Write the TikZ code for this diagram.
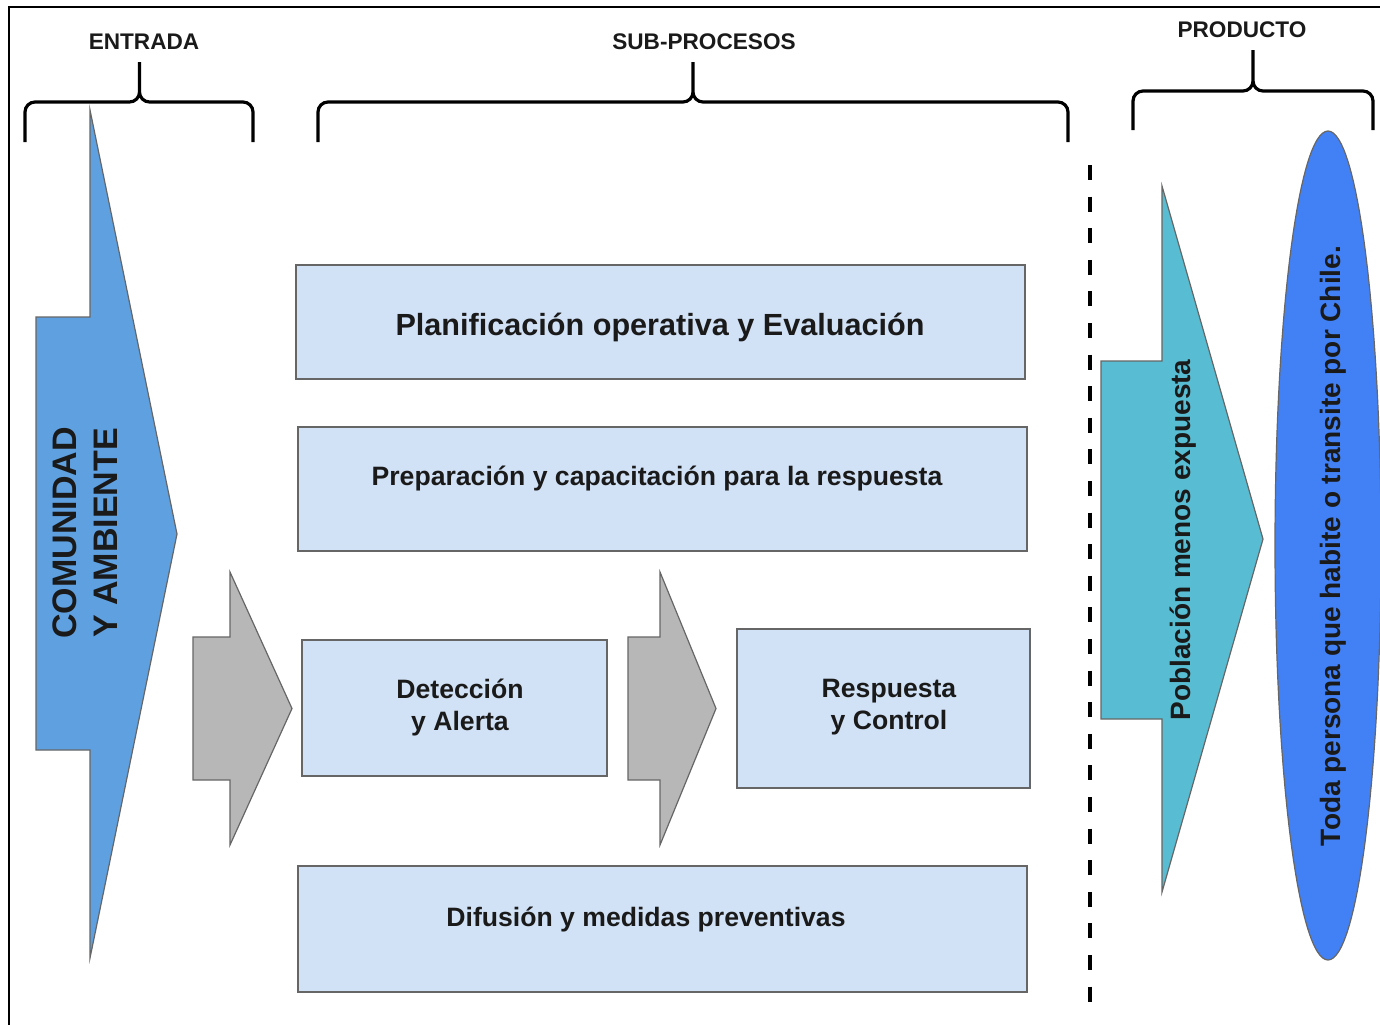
\documentclass[tikz,border=0pt]{standalone}
\usepackage{fontspec}
\setmainfont{Liberation Sans}
\usetikzlibrary{shapes.geometric}
\definecolor{entblue}{HTML}{5FA0E0}
\definecolor{stepgray}{HTML}{B7B7B7}
\definecolor{boxfill}{HTML}{D2E2F6}
\definecolor{boxline}{HTML}{666666}
\definecolor{outteal}{HTML}{58BCD2}
\definecolor{popblue}{HTML}{4281F5}
\definecolor{txtdark}{HTML}{1A1A1A}
% block arrow: style, left, stem, tip, top, rect top, rect bottom, bottom
\newcommand*{\blockarrow}[8]{%
  \draw [#1] (#3,#5) -- (#4,{(#5+#8)/2}) -- (#3,#8) -- (#3,#7) -- (#2,#7) -- (#2,#6) -- (#3,#6) -- cycle;}
% curly bracket: left, middle, right, bar, stem top, ends
\newcommand*{\topbrace}[6]{%
  \draw [bracestroke] (#1,#6) |- (#2,#4) -- (#2,#5) (#2,#5) -- (#2,#4) -| (#3,#6);}

\begin{document}
\begin{tikzpicture}[x=0.5pt, y=-0.5pt, font=\bfseries, text=txtdark,
    bracestroke/.style={line width=1.6pt, rounded corners=5pt},
    heading/.style={font=\fontsize{11.3}{13}\selectfont\bfseries},
    procbox/.style={draw=boxline, fill=boxfill, line width=0.75pt, inner sep=0pt},
    boxtext/.style={font=\fontsize{13.3}{16}\selectfont\bfseries, align=center},
    bigtext/.style={font=\fontsize{17}{20.5}\selectfont\bfseries, align=center},
    sidetext/.style={font=\fontsize{14}{17}\selectfont\bfseries},
    sepline/.style={line width=2pt, dash pattern=on 7.5pt off 8.3pt}]
    \useasboundingbox (0,0) rectangle (1380,1024);
    \draw [line width=0.85pt] (9,1030) -- (9,7) -- (1390,7);

    % headings and brackets
    \node [heading] (entrada) at (144,42) {ENTRADA};
    \node [heading] (subproc) at (704,42) {SUB-PROCESOS};
    \node [heading] (producto) at (1242,30) {PRODUCTO};
    \topbrace{25}{139.5}{253}{102}{62}{142}
    \topbrace{318}{693}{1068}{102}{62}{142}
    \topbrace{1133}{1253}{1373}{91}{50}{130}

    % input
    \blockarrow{draw=boxline, fill=entblue, line width=0.6pt}{36}{90}{177}{110}{317}{750}{958}
    \node [bigtext, rotate=90] (comunidad) at (85,533) {COMUNIDAD\\Y AMBIENTE};

    % sub-processes
    \node [procbox, minimum width=364.5pt, minimum height=57pt] (plan) at (660.5,322) {};
    \node [boxtext, font=\fontsize{15.3}{18}\selectfont\bfseries] (plantxt) at (660,327) {Planificación operativa y Evaluación};
    \node [procbox, minimum width=364.5pt, minimum height=62pt] (prep) at (662.5,489) {};
    \node [boxtext] (preptxt) at (657,478) {Preparación y capacitación para la respuesta};
    \node [procbox, minimum width=152.5pt, minimum height=68pt] (detec) at (454.5,708) {};
    \node [boxtext] (detectxt) at (460,707) {Detección\\y Alerta};
    \node [procbox, minimum width=146.5pt, minimum height=79.5pt] (resp) at (883.5,708.5) {};
    \node [boxtext] (resptxt) at (889,707) {Respuesta\\y Control};
    \node [procbox, minimum width=364.5pt, minimum height=63pt] (difu) at (662.5,929) {};
    \node [boxtext] (difutxt) at (646,919) {Difusión y medidas preventivas};
    \blockarrow{draw=boxline, fill=stepgray, line width=0.6pt}{193}{230}{292}{572}{637}{780}{845}
    \blockarrow{draw=boxline, fill=stepgray, line width=0.6pt}{628}{660}{716}{572}{637}{780}{845}

    \draw [sepline] (1090,165) -- (1090,1002);

    % product
    \blockarrow{draw=boxline, fill=outteal, line width=0.6pt}{1101}{1162}{1263}{186}{361}{719}{892}
    \node [sidetext, rotate=90] (poblacion) at (1183,540) {Población menos expuesta};
    \node [ellipse, draw=boxline, fill=popblue, line width=0.6pt, inner sep=0pt,
           minimum width=53pt, minimum height=414.5pt] (persona) at (1328,545.5) {};
    \node [sidetext, rotate=90] (personatxt) at (1333,546) {Toda persona que habite o transite por Chile.};
\end{tikzpicture}
\end{document}
